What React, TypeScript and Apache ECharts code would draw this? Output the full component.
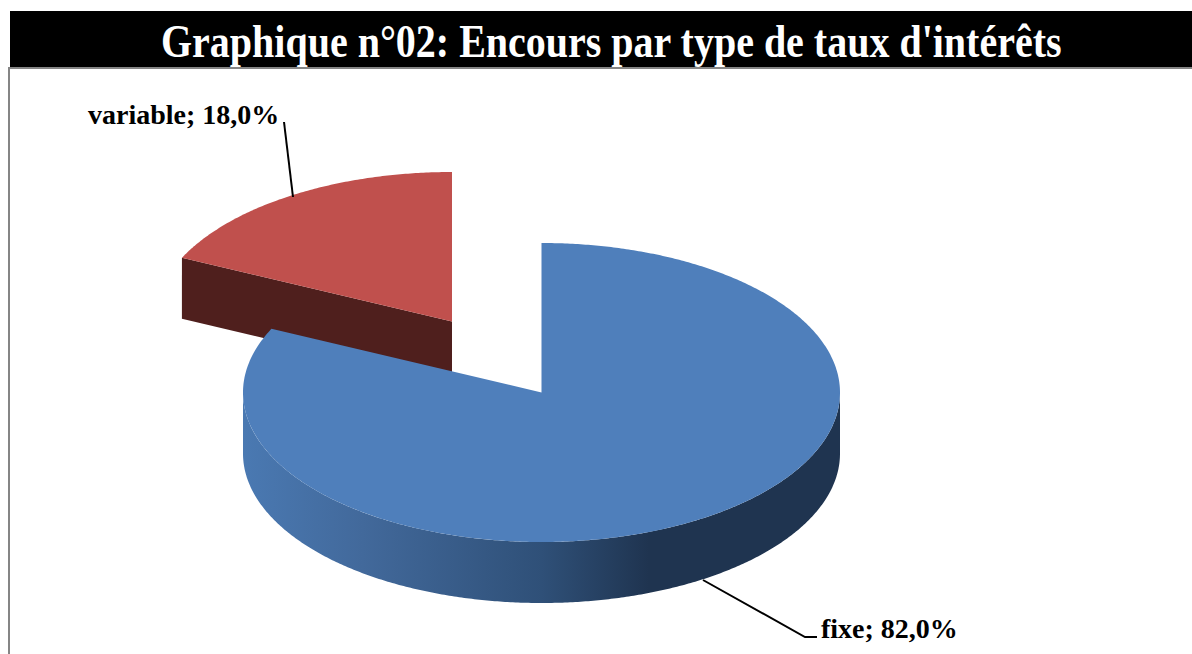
import React, { useEffect, useRef } from "react";
import * as echarts from "echarts";

const titleText = "Graphique n°02: Encours par type de taux d'intérêts";
const categories = ["variable", "fixe"];
const shares = [18.0, 82.0];

const RX = 298.5;
const RY = 149.5;
const DEPTH = 61;
const centers = [[452, 321.5], [541.5, 392.5]];
const topColors = ["#c0504d", "#4f7fbb"];
const sideColors = ["#4f1f1d", "#1f3450"];
const labelPos = [[88, 114], [821, 628]];
const leaders = [
  [[284, 122], [293, 197]],
  [[703, 580], [805, 637], [817, 637]],
];
const wallStops = [
  [0, "#4a79b2"],
  [0.2, "#42699b"],
  [0.5, "#2f5078"],
  [0.68, "#1f3450"],
  [1, "#1f3450"],
];

const FONT = "'Liberation Serif', 'Times New Roman', serif";

function pt(c: number[], deg: number, dy = 0) {
  const a = (deg * Math.PI) / 180;
  return [c[0] + RX * Math.sin(a), c[1] - RY * Math.cos(a) + dy];
}
function arc(c: number[], from: number, to: number, dy = 0) {
  const n = Math.max(2, Math.ceil(Math.abs(to - from) * 2));
  const out: number[][] = [];
  for (let i = 0; i <= n; i++) out.push(pt(c, from + ((to - from) * i) / n, dy));
  return out;
}

function fmt(v: number) {
  return v.toFixed(1).replace(".", ",") + "%";
}

export default function App() {
  const ref = useRef<HTMLDivElement>(null);
  useEffect(() => {
    const chart = echarts.init(ref.current!, null, { renderer: "svg" });
    const total = shares.reduce((a, b) => a + b, 0);
    const renderItem = (params: any, api: any) => {
      const i = params.dataIndex;
      let cum = -(shares[0] / total) * 360;
      for (let k = 0; k < i; k++) cum += (shares[k] / total) * 360;
      const start = cum;
      const end = cum + (Number(api.value(0)) / total) * 360;
      const c = centers[i];
      const children: any[] = [];
      const tip = (c: number[], dy: number) => [c[0], c[1] + dy];

      if (i === 0) {
        const p = pt(c, start);
        const q = pt(c, start, DEPTH);
        children.push({
          type: "polygon",
          shape: { points: [p, c, tip(c, DEPTH), q] },
          style: { fill: sideColors[i] },
        });
      } else {
        const top = arc(c, 90, 270);
        const bottom = arc(c, 270, 90, DEPTH);
        children.push({
          type: "polygon",
          shape: { points: [...top, ...bottom] },
          style: {
            fill: new echarts.graphic.LinearGradient(
              0, 0, 1, 0,
              wallStops.map(([offset, color]) => ({ offset: offset as number, color: color as string })),
            ),
          },
        });
      }
      children.push({
        type: "polygon",
        shape: { points: [c, ...arc(c, start, end)] },
        style: { fill: topColors[i] },
      });
      children.push({
        type: "polyline",
        shape: { points: leaders[i] },
        style: { stroke: "#000", lineWidth: 2, fill: "none" },
      });
      children.push({
        type: "text",
        x: labelPos[i][0],
        y: labelPos[i][1],
        style: {
          text: `${categories[i]}; ${fmt(Number(api.value(0)))}`,
          fill: "#000",
          font: `bold 28px ${FONT}`,
          textAlign: "left",
          textVerticalAlign: "middle",
        },
      });
      return { type: "group", children };
    };
    chart.setOption({
      animation: false,
      backgroundColor: "#ffffff",
      graphic: [
        { type: "rect", z: 1, shape: { x: 10, y: 11, width: 1182, height: 56 }, style: { fill: "#000" } },
        { type: "rect", z: 1, shape: { x: 8, y: 67, width: 1184, height: 2 }, style: { fill: "#858585" } },
        { type: "rect", z: 1, shape: { x: 8, y: 67, width: 2, height: 587 }, style: { fill: "#858585" } },
        {
          type: "text",
          z: 2,
          x: 161,
          y: 41,
          scaleX: 0.851,
          style: {
            text: titleText,
            fill: "#ffffff",
            font: `bold 47px ${FONT}`,
            textAlign: "left",
            textVerticalAlign: "middle",
          },
        },
      ],
      series: [
        {
          type: "custom",
          coordinateSystem: "none",
          renderItem,
          data: shares.map((v, i) => ({ name: categories[i], value: [v] })),
          silent: true,
        },
      ],
    });
    return () => chart.dispose();
  }, []);
  return (
    <div
      ref={ref}
      style={{ position: "absolute", left: 0, top: 0, width: 1192, height: 654 }}
    />
  );
}
